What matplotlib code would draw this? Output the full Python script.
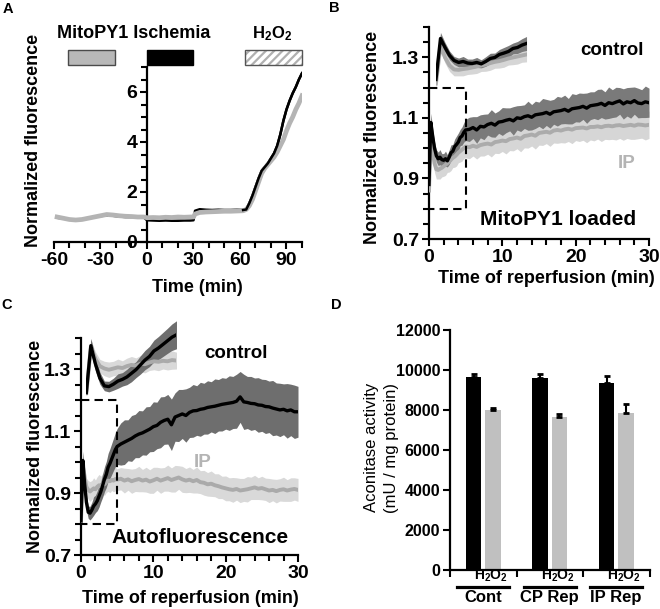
import matplotlib
matplotlib.use('Agg')
import matplotlib.pyplot as plt
import numpy as np
from matplotlib.patches import Rectangle
from matplotlib.ticker import MultipleLocator, FixedLocator, FormatStrFormatter, NullFormatter

plt.rcParams['font.family'] = ['Liberation Sans', 'DejaVu Sans']
plt.rcParams['font.weight'] = 'bold'
plt.rcParams['axes.labelweight'] = 'bold'
plt.rcParams['axes.unicode_minus'] = False
plt.rcParams['mathtext.fontset'] = 'custom'
plt.rcParams['mathtext.rm'] = 'Liberation Sans'
plt.rcParams['mathtext.bf'] = 'Liberation Sans:bold'
plt.rcParams['mathtext.it'] = 'Liberation Sans:italic'
plt.rcParams['hatch.linewidth'] = 1.6

# ---------------- Panel A data ----------------
a_time = [-58, -54, -50, -46, -42, -38, -34, -30, -26, -22, -18, -14, -10, -6, -2,
          0, 4, 8, 12, 16, 20, 24, 28, 30, 31, 34, 38, 42, 46, 50, 54, 58, 62,
          64, 66, 68, 70, 72, 74, 76, 78, 80, 82, 84, 86, 88, 90, 92, 94, 96, 98, 100]
a_control = [0.97, 0.94, 0.90, 0.88, 0.90, 0.95, 1.00, 1.04, 1.06, 1.05, 1.02, 1.00, 1.00, 1.01, 0.98,
             0.87, 0.86, 0.85, 0.86, 0.85, 0.85, 0.86, 0.86, 0.87, 1.25, 1.31, 1.29, 1.28, 1.29, 1.28, 1.28, 1.29, 1.28,
             1.30, 1.55, 1.85, 2.20, 2.55, 2.85, 3.00, 3.15, 3.35, 3.55, 3.85, 4.30, 4.85, 5.30, 5.65, 5.95, 6.20, 6.50, 6.75]
a_ip = [1.00, 0.95, 0.90, 0.88, 0.90, 0.95, 1.00, 1.05, 1.10, 1.08, 1.05, 1.03, 1.02, 1.00, 1.00,
        0.97, 0.98, 0.97, 0.99, 0.98, 1.00, 0.99, 1.00, 1.00, 1.12, 1.18, 1.20, 1.21, 1.22, 1.23, 1.23, 1.24, 1.25,
        1.30, 1.45, 1.70, 2.05, 2.40, 2.75, 2.95, 3.10, 3.25, 3.40, 3.60, 3.85, 4.10, 4.45, 4.75, 5.00, 5.30, 5.55, 5.85]

# ---------------- Panels B & C data ----------------
reperfusion_min = [0, 0.25, 0.5, 0.75, 1, 1.25, 1.5, 1.75, 2, 2.25, 2.5, 2.75, 3, 3.25, 3.5, 3.75, 4, 4.25, 4.5, 4.75, 5,
                   5.5, 6, 6.5, 7, 7.5, 8, 8.5, 9, 9.5, 10, 10.5, 11, 11.5, 12, 12.5, 13, 13.5, 14, 14.5, 15,
                   15.5, 16, 16.5, 17, 17.5, 18, 18.5, 19, 19.5, 20, 20.5, 21, 21.5, 22, 22.5, 23, 23.5, 24, 24.5, 25,
                   25.5, 26, 26.5, 27, 27.5, 28, 28.5, 29, 29.5, 30]

b_control = [0.88, 1.085, 1.04, 1.0, 0.975, 0.965, 0.97, 0.962, 0.96, 0.965, 0.958, 0.97, 0.985, 0.99, 1.005, 1.012, 1.02, 1.035, 1.04, 1.052, 1.06,
             1.062, 1.068, 1.06, 1.072, 1.07, 1.078, 1.082, 1.076, 1.086, 1.088,
             1.092, 1.095, 1.09, 1.1, 1.098, 1.104, 1.107, 1.102, 1.11, 1.112,
             1.114, 1.118, 1.112, 1.12, 1.122, 1.124, 1.128, 1.122, 1.13, 1.132,
             1.134, 1.138, 1.132, 1.14, 1.142, 1.144, 1.148, 1.141, 1.15, 1.147,
             1.152, 1.156, 1.146, 1.153, 1.15, 1.157, 1.149, 1.147, 1.153, 1.15]
b_control_sem = [0.03, 0.03, 0.025, 0.022, 0.02, 0.022, 0.025, 0.02, 0.022, 0.025, 0.02, 0.024, 0.026, 0.022, 0.025, 0.028, 0.03, 0.027, 0.03, 0.032, 0.035,
                 0.04, 0.036, 0.044, 0.038, 0.042, 0.035, 0.045, 0.04, 0.037, 0.046,
                 0.041, 0.038, 0.047, 0.04, 0.043, 0.039, 0.048, 0.042, 0.045, 0.04,
                 0.05, 0.043, 0.046, 0.041, 0.049, 0.044, 0.047, 0.042, 0.05, 0.045,
                 0.048, 0.043, 0.05, 0.046, 0.044, 0.05, 0.047, 0.045, 0.052, 0.046,
                 0.049, 0.044, 0.05, 0.047, 0.051, 0.045, 0.049, 0.046, 0.052, 0.048]
b_ip = [0.86, 1.05, 0.99, 0.95, 0.93, 0.928, 0.932, 0.935, 0.94, 0.945, 0.95, 0.955, 0.962, 0.968, 0.972, 0.978, 0.985, 0.99, 0.995, 1.0, 1.005,
        1.003, 1.008, 1.004, 1.01, 1.013, 1.015, 1.012, 1.02, 1.022, 1.025,
        1.023, 1.03, 1.032, 1.035, 1.031, 1.04, 1.042, 1.045, 1.041, 1.05,
        1.052, 1.054, 1.051, 1.058, 1.06, 1.058, 1.062, 1.064, 1.061, 1.066,
        1.067, 1.068, 1.065, 1.07, 1.07, 1.072, 1.069, 1.073, 1.074, 1.072,
        1.075, 1.076, 1.073, 1.075, 1.077, 1.074, 1.078, 1.077, 1.075, 1.077]
b_ip_sem = [0.03, 0.03, 0.028, 0.03, 0.032, 0.03, 0.034, 0.03, 0.033, 0.035, 0.03, 0.034, 0.036, 0.032, 0.035, 0.037, 0.033, 0.036, 0.038, 0.034, 0.037,
            0.038, 0.034, 0.04, 0.036, 0.039, 0.035, 0.041, 0.037, 0.04, 0.036,
            0.042, 0.038, 0.041, 0.037, 0.043, 0.039, 0.042, 0.038, 0.044, 0.04,
            0.043, 0.039, 0.045, 0.041, 0.044, 0.04, 0.045, 0.042, 0.046, 0.041,
            0.045, 0.042, 0.047, 0.043, 0.046, 0.042, 0.047, 0.044, 0.046, 0.043,
            0.048, 0.044, 0.047, 0.043, 0.048, 0.045, 0.047, 0.044, 0.048, 0.045]

c_control = [0.81, 1.005, 0.93, 0.87, 0.838, 0.835, 0.845, 0.858, 0.865, 0.875, 0.89, 0.905, 0.925, 0.945, 0.96, 0.983, 0.995, 1.01, 1.025, 1.04, 1.05,
             1.058, 1.064, 1.07, 1.076, 1.084, 1.09, 1.094, 1.1, 1.106, 1.114,
             1.118, 1.128, 1.134, 1.138, 1.12, 1.145, 1.15, 1.155, 1.15, 1.16,
             1.165, 1.166, 1.17, 1.172, 1.176, 1.178, 1.18, 1.183, 1.186, 1.188,
             1.19, 1.192, 1.196, 1.21, 1.194, 1.192, 1.189, 1.188, 1.184, 1.183,
             1.179, 1.178, 1.174, 1.171, 1.168, 1.17, 1.165, 1.168, 1.162, 1.162]
c_control_sem = [0.02, 0.03, 0.03, 0.025, 0.02, 0.022, 0.025, 0.03, 0.028, 0.032, 0.035, 0.033, 0.038, 0.04, 0.042, 0.045, 0.048, 0.05, 0.052, 0.055, 0.058,
                 0.068, 0.072, 0.066, 0.074, 0.07, 0.076, 0.071, 0.078, 0.073, 0.08,
                 0.075, 0.082, 0.077, 0.08, 0.083, 0.078, 0.084, 0.079, 0.086, 0.081,
                 0.085, 0.08, 0.087, 0.082, 0.086, 0.081, 0.088, 0.083, 0.086, 0.082,
                 0.088, 0.084, 0.087, 0.082, 0.089, 0.084, 0.087, 0.083, 0.088, 0.084,
                 0.087, 0.083, 0.089, 0.084, 0.086, 0.082, 0.088, 0.083, 0.086, 0.082]
c_ip = [0.808, 1.0, 0.95, 0.92, 0.91, 0.905, 0.91, 0.915, 0.912, 0.92, 0.925, 0.922, 0.93, 0.928, 0.935, 0.94, 0.938, 0.942, 0.94, 0.945, 0.943,
        0.946, 0.94, 0.944, 0.938, 0.942, 0.945, 0.94, 0.943, 0.937, 0.941,
        0.946, 0.94, 0.944, 0.948, 0.942, 0.946, 0.95, 0.944, 0.94, 0.943,
        0.938, 0.942, 0.935, 0.933, 0.928, 0.93, 0.925, 0.922, 0.918, 0.915,
        0.912, 0.91, 0.913, 0.908, 0.91, 0.912, 0.915, 0.918, 0.914, 0.916,
        0.912, 0.908, 0.91, 0.906, 0.91, 0.912, 0.908, 0.911, 0.913, 0.91]
c_ip_sem = [0.02, 0.03, 0.03, 0.028, 0.03, 0.032, 0.03, 0.034, 0.03, 0.033, 0.035, 0.032, 0.034, 0.036, 0.033, 0.035, 0.037, 0.034, 0.036, 0.038, 0.035,
            0.036, 0.04, 0.035, 0.039, 0.037, 0.041, 0.036, 0.04, 0.038, 0.042,
            0.037, 0.041, 0.038, 0.042, 0.039, 0.043, 0.038, 0.042, 0.039, 0.041,
            0.038, 0.042, 0.037, 0.04, 0.038, 0.041, 0.037, 0.04, 0.036, 0.04,
            0.037, 0.04, 0.036, 0.039, 0.037, 0.041, 0.036, 0.039, 0.035, 0.038,
            0.036, 0.039, 0.035, 0.038, 0.036, 0.039, 0.035, 0.038, 0.036, 0.037]

# ---------------- Panel D data ----------------
d_groups = ['Cont', 'CP Rep', 'IP Rep']
d_control = [9630, 9580, 9370]
d_control_err = [170, 220, 310]
d_h2o2 = [8000, 7650, 7850]
d_h2o2_err = [120, 130, 430]

# ---------------- Figure ----------------
W, H = 660, 609
fig = plt.figure(figsize=(W / 100, H / 100), dpi=100)


def add_ax(l, t, r, b):
    return fig.add_axes([l / W, 1 - b / H, (r - l) / W, (b - t) / H])


def style(ax, labelsize=14):
    for s in ['top', 'right']:
        ax.spines[s].set_visible(False)
    for s in ['left', 'bottom']:
        ax.spines[s].set_linewidth(1.6)
    ax.tick_params(which='both', direction='out', width=1.5, colors='black', labelsize=labelsize, pad=2)
    ax.tick_params(which='major', length=5)
    ax.tick_params(which='minor', length=4)


# ---------- A ----------
axA = add_ax(54, 67, 302, 242)
style(axA)
axA.spines['left'].set_position(('data', 0))
axA.set_xlim(-60, 100)
axA.set_ylim(0, 7)
axA.xaxis.set_major_locator(FixedLocator([-60, -30, 0, 30, 60, 90]))
axA.xaxis.set_minor_locator(MultipleLocator(10))
axA.yaxis.set_major_locator(FixedLocator([0, 2, 4, 6]))
axA.yaxis.set_minor_locator(MultipleLocator(0.5))
axA.plot(a_time, a_control, color='black', lw=1.8, zorder=3)
axA.plot(a_time, a_ip, color='#b4b4b4', lw=3.4, zorder=4)
i62 = a_time.index(62)
axA.plot(a_time[i62:], a_control[i62:], color='black', lw=1.8, zorder=5)
axA.set_ylabel('Normalized fluorescence', fontsize=13)
axA.yaxis.set_label_coords(-0.05, 0.58)
axA.set_xlabel('Time (min)', fontsize=13)
axA.xaxis.set_label_coords(0.577, -0.212)
axA.add_patch(Rectangle((-51, 7.08), 30.5, 0.6, fc='#b8b8b8', ec='#4a4a4a', lw=1, clip_on=False))
axA.add_patch(Rectangle((0, 7.08), 30, 0.6, fc='black', ec='black', lw=1, clip_on=False))
axA.add_patch(Rectangle((63, 7.08), 37, 0.6, fc='white', ec='#b0b0b0', lw=0, hatch='////', clip_on=False))
axA.add_patch(Rectangle((63, 7.08), 37, 0.6, fill=False, ec='#555555', lw=1, clip_on=False))
axA.text(-8.5, 8.32, 'MitoPY1 Ischemia', ha='center', va='center', fontsize=13)
axA.text(81, 8.32, r'$\mathbf{H_2O_2}$', ha='center', va='center', fontsize=12)


def draw_traces(ax, t, ctrl, ctrl_sem, ip, ip_sem, cband, iband, iline):
    t = np.asarray(t)
    ctrl = np.asarray(ctrl); ctrl_sem = np.asarray(ctrl_sem)
    ip = np.asarray(ip); ip_sem = np.asarray(ip_sem)
    ax.fill_between(t, ip - ip_sem, ip + ip_sem, color=iband, lw=0, zorder=1)
    ax.fill_between(t, ctrl - ctrl_sem, ctrl + ctrl_sem, color=cband, lw=0, zorder=2)
    ax.plot(t, ip, color=iline, lw=2.8, zorder=3)
    ax.plot(t, ctrl, color='black', lw=2.4, zorder=4)


def trace_panel(ax, t, ctrl, ctrl_sem, ip, ip_sem, inset_bounds, cband, iband, iline):
    style(ax)
    ax.set_xlim(0, 30)
    ax.set_ylim(0.7, 1.4)
    ax.xaxis.set_major_locator(FixedLocator([0, 10, 20, 30]))
    ax.xaxis.set_minor_locator(MultipleLocator(2))
    ax.yaxis.set_major_locator(FixedLocator([0.7, 0.9, 1.1, 1.3]))
    ax.yaxis.set_minor_locator(MultipleLocator(0.05))
    ax.yaxis.set_major_formatter(FormatStrFormatter('%.1f'))
    draw_traces(ax, t, ctrl, ctrl_sem, ip, ip_sem, cband, iband, iline)
    ax.plot([0, 5, 5, 0], [1.2, 1.2, 0.8, 0.8], color='black', lw=1.5,
            ls=(0, (4, 2.5)), zorder=6, clip_on=False)
    n = reperfusion_min.index(5) + 1
    ins = ax.inset_axes(inset_bounds, transform=ax.transData)
    ins.set_xlim(0, 5)
    ins.set_ylim(0.8, 1.2)
    ins.axis('off')
    draw_traces(ins, t[:n], ctrl[:n], ctrl_sem[:n], ip[:n], ip_sem[:n], cband, iband, iline)
    ax.set_xlabel('Time of reperfusion (min)', fontsize=13)
    ax.set_ylabel('Normalized fluorescence', fontsize=13)


# ---------- B ----------
axB = add_ax(429, 27, 649, 239)
trace_panel(axB, reperfusion_min, b_control, b_control_sem, b_ip, b_ip_sem,
            [0.95, 1.174, 12.35, 0.264], '#7a7a7a', '#d6d6d6', '#ababab')
axB.yaxis.set_label_coords(-0.218, 0.48)
axB.xaxis.set_label_coords(0.535, -0.148)
axB.text(24.9, 1.321, 'control', ha='center', va='center', fontsize=13.5)
axB.text(27, 0.95, 'IP', ha='center', va='center', fontsize=13.5, color='#b4b4b4')
axB.text(17.6, 0.763, 'MitoPY1 loaded', ha='center', va='center', fontsize=15)

# ---------- C ----------
axC = add_ax(81, 338, 298, 555)
trace_panel(axC, reperfusion_min, c_control, c_control_sem, c_ip, c_ip_sem,
            [0.74, 1.216, 12.46, 0.311], '#6e6e6e', '#d9d9d9', '#aaaaaa')
axC.yaxis.set_label_coords(-0.172, 0.5)
axC.xaxis.set_label_coords(0.502, -0.163)
axC.text(21.4, 1.35, 'control', ha='center', va='center', fontsize=13.5)
axC.text(16.8, 0.997, 'IP', ha='center', va='center', fontsize=13.5, color='#b4b4b4')
axC.text(16.5, 0.757, 'Autofluorescence', ha='center', va='center', fontsize=15)

# ---------- D ----------
axD = add_ax(450, 330, 649.5, 570)
style(axD, labelsize=11.5)
x = np.arange(len(d_groups))
axD.bar(x - 0.145, d_control, width=0.235, color='black', zorder=2)
axD.bar(x + 0.145, d_h2o2, width=0.235, color='#c0c0c0', zorder=2)
axD.errorbar(x - 0.145, d_control, yerr=[np.zeros(3), d_control_err], fmt='none',
             ecolor='black', elinewidth=1.5, capsize=2.5, capthick=2, zorder=3)
axD.errorbar(x + 0.145, d_h2o2, yerr=[np.zeros(3), d_h2o2_err], fmt='none',
             ecolor='black', elinewidth=1.5, capsize=2.5, capthick=2, zorder=3)
axD.set_xlim(-0.5, 2.5)
axD.set_ylim(0, 12000)
axD.yaxis.set_major_locator(MultipleLocator(2000))
axD.set_xticks([-0.5, 0.5, 1.5, 2.5])
axD.xaxis.set_major_formatter(NullFormatter())
axD.set_ylabel('Aconitase activity\n(mU / mg protein)', fontsize=12, fontweight='normal', linespacing=1.45)
axD.yaxis.set_label_coords(-0.255, 0.51)
tr = axD.get_xaxis_transform()
for i, g in enumerate(d_groups):
    axD.text(i + 0.12, -0.023, r'$\mathrm{H_2O_2}$', transform=tr, ha='center', va='center', fontsize=10)
    axD.plot([i - 0.39, i + 0.39], [-0.072, -0.072], transform=tr, color='black', lw=2.3, clip_on=False)
    axD.text(i, -0.113, g, transform=tr, ha='center', va='center', fontsize=12)

# panel letters
for lbl, (px, py) in {'A': (8, 9), 'B': (334, 8), 'C': (7, 305), 'D': (336, 305)}.items():
    fig.text(px / W, 1 - py / H, lbl, ha='center', va='center', fontsize=10.5, fontweight='bold')

fig.savefig('out.png', dpi=100)
